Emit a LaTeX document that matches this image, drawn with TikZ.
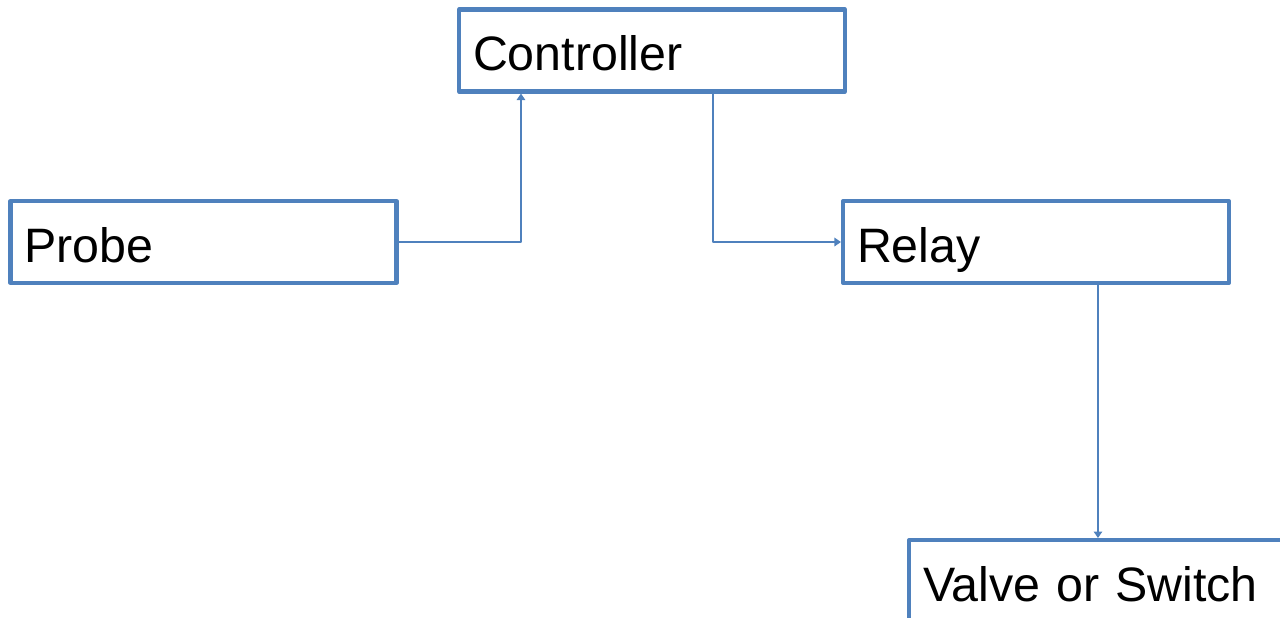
\documentclass[tikz,border=0pt]{standalone}
\usepackage{fontspec}
\setmainfont{Liberation Sans}
\usetikzlibrary{arrows.meta,positioning,calc}
\definecolor{boxblue}{RGB}{79,129,189}
\tikzset{
  stage/.style={draw=boxblue, line width=2.3pt, rectangle, minimum width=7.72cm, minimum height=1.64cm,
    text width=7.16cm, inner xsep=0.28cm, align=left, text height=0.8cm, text depth=0cm,
    font=\fontsize{27.5}{32}\selectfont},
  link/.style={draw=boxblue, line width=0.8pt, -{Triangle[width=0.17cm,length=0.13cm]}}
}
\begin{document}
\begin{tikzpicture}[line join=round]
\useasboundingbox (0,0) rectangle (25.6,-12.34);
% boxes
\node[stage] (ctrl) at (13.04,-1.01) {Controller};
\node[stage] (probe) at (4.07,-4.84) {Probe};
\node[stage] (relay) at (20.72,-4.84) {Relay};
\node[stage, anchor=north west] (valve) at (18.14,-10.76) {Valve or Switch};
% signal path
\coordinate (cin) at ($(ctrl.south west)+(1.28,0)$);
\coordinate (cout) at ($(ctrl.south west)+(5.12,0)$);
\coordinate (rout) at ($(relay.south west)+(5.14,0)$);
\draw[link] (probe.east) -| (cin);
\draw[link] (cout) |- (relay.west);
\draw[link] (rout) -- (rout |- valve.north);
\end{tikzpicture}
\end{document}
